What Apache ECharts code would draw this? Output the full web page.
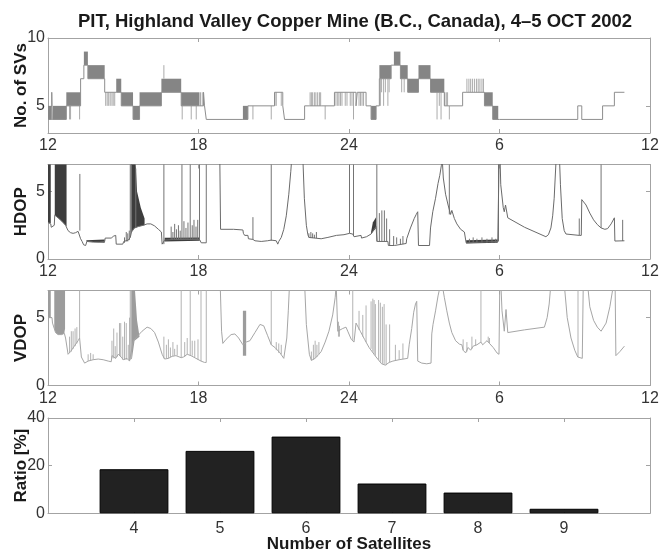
<!DOCTYPE html>
<html><head><meta charset="utf-8">
<script src="https://cdn.jsdelivr.net/npm/echarts@6/dist/echarts.min.js"></script>
<style>html,body{margin:0;padding:0;background:#fff}#c{width:659px;height:554px}</style>
</head><body><div id="c"></div>
<script>
// ---------------- DATA ----------------
const hourTicks = [12, 18, 24, 30, 36];
const hourLabels = ['12', '18', '24', '6', '12'];
const svTicks = [5, 10];
const dopTicks = [0, 5];
const ratioTicks = [0, 20, 40];

// number of satellites: [hour, count] (value held until next entry)
const svSteps = [[12.00,4],[12.15,6],[12.17,4],[12.73,5],[13.30,7],[13.43,8],[13.59,7],[14.26,6],[14.72,6],[14.92,5],[15.39,4],[15.65,5],[16.52,6],[17.31,5],[18.04,5],[18.20,6],[18.24,5],[18.31,4],[19.77,4],[19.97,5],[21.03,6],[21.36,5],[21.43,4],[22.23,5],[22.42,5],[22.89,5],[23.42,6],[24.28,5],[24.33,6],[24.68,5],[24.88,4],[25.08,5],[25.21,7],[25.68,8],[25.79,8],[26.05,7],[26.34,6],[26.77,7],[27.25,6],[27.80,5],[28.00,5],[28.53,6],[28.67,6],[29.40,5],[29.73,4],[30.00,4],[33.12,5],[33.28,4],[34.11,5],[34.58,6],[34.98,6]];
// rapid toggling between two counts: [start, end, low, high]
const svBands = [[12.00,12.13,4,5],[12.20,12.73,4,5],[12.73,13.30,5,6],[13.43,13.59,8,9],[13.59,14.26,7,8],[14.72,14.92,6,7],[14.92,15.39,5,6],[15.39,15.65,4,5],[15.65,16.52,5,6],[16.52,17.31,6,7],[17.31,18.04,5,6],[19.77,19.97,4,5],[24.88,25.08,4,5],[25.21,25.68,7,8],[25.79,26.05,8,9],[26.05,26.34,7,8],[26.34,26.77,6,7],[26.77,27.25,7,8],[27.25,27.80,6,7],[29.40,29.73,5,6],[29.73,29.95,4,5]];
// isolated short changes: [hour, low, high]
const svSpikes = [[12.86,4,5],[12.90,4,5],[13.26,4,5],[14.30,5,6],[14.36,5,6],[14.42,5,6],[14.48,5,6],[14.55,5,6],[14.60,5,6],[14.66,5,6],[16.62,7,8],[17.35,4,5],[17.71,4,5],[17.91,4,5],[18.08,5,6],[18.15,5,6],[20.17,4,5],[20.90,4,5],[21.05,5,6],[21.10,5,6],[21.30,5,6],[22.45,5,6],[22.50,5,6],[22.55,5,6],[22.62,5,6],[22.68,5,6],[22.75,5,6],[22.82,5,6],[22.87,5,6],[23.05,4,5],[23.48,5,6],[23.55,5,6],[23.60,5,6],[23.66,5,6],[23.72,5,6],[23.85,5,6],[23.92,5,6],[24.05,5,6],[24.12,5,6],[24.18,4,6],[24.40,5,6],[24.46,5,6],[24.52,5,6],[24.58,5,6],[25.25,5,7],[25.30,6,7],[25.38,5,7],[25.45,6,7],[25.55,5,7],[25.60,6,7],[26.10,6,7],[26.20,6,7],[27.51,4,6],[27.60,5,6],[27.67,4,6],[27.82,5,6],[27.88,5,6],[27.93,5,6],[28.00,4,5],[28.70,6,7],[28.78,6,7],[28.85,6,7],[28.92,6,7],[29.00,6,7],[29.08,6,7],[29.15,6,7],[29.22,6,7],[29.30,6,7],[29.36,6,7]];

// HDOP: [hour, value], null = no data
const hdopLine = [[12.00,2.7],[12.11,2.6],[12.13,2.35],[12.20,2.3],[12.25,2.5],[12.27,3.25],[12.40,3.05],[12.55,2.8],[12.70,2.5],[12.80,2.1],[12.90,1.95],[13.00,1.9],[13.10,1.95],[13.20,2.05],[13.27,2.15],[13.30,1.5],[13.36,1.3],[13.42,1.05],[13.50,1.0],[13.55,1.3],[13.80,1.25],[14.05,1.25],[14.26,1.3],[14.28,1.55],[14.52,1.55],[14.62,1.7],[14.70,1.75],[14.72,1.1],[14.98,1.1],[15.02,1.3],[15.20,1.4],[15.28,1.6],[15.33,2.0],[15.45,2.3],[15.60,2.4],[15.80,2.5],[15.95,2.6],[16.10,2.6],[16.25,2.45],[16.40,2.2],[16.52,2.0],[16.55,1.1],[16.62,1.1],[16.65,1.4],[17.00,1.45],[17.50,1.45],[18.04,1.45],[18.11,1.2],[18.31,1.2],null,[18.84,9],[18.88,2.2],[19.40,2.2],[19.45,2.15],[19.77,2.15],[19.79,1.9],[19.84,1.75],[19.97,1.75],[19.99,1.5],[20.17,1.45],[20.25,1.35],[20.50,1.3],[20.75,1.35],[20.90,1.4],[21.10,1.35],[21.16,1.1],[21.20,1.3],[21.30,1.6],[21.40,2.2],[21.50,3.2],[21.60,4.8],[21.68,6.5],[21.72,7.5],[21.80,9],[22.10,9],[22.16,7.5],[22.22,4.5],[22.30,2.5],[22.36,1.8],[22.40,1.6],[22.89,1.5],[23.16,1.6],[23.17,1.7],[23.50,1.75],[23.80,1.8],[24.02,1.9],[24.15,1.85],[24.20,1.65],[24.48,1.75],[24.50,1.55],[24.70,1.65],[24.88,1.85],[25.00,2.2],[25.08,2.4],[25.12,1.3],[25.55,1.3],[25.57,1.0],[25.81,1.0],[25.83,1.1],[26.28,1.15],[26.30,1.5],[26.45,2.3],[26.60,3.0],[26.68,3.3],[26.74,3.5],[26.77,1.0],[27.21,1.0],[27.25,2.3],[27.34,3.5],[27.45,4.5],[27.55,5.6],[27.62,6.2],[27.68,6.9],[27.72,7.3],[27.76,6.0],[27.85,4.8],[27.95,4.0],[28.05,3.3],[28.10,3.6],[28.20,3.0],[28.30,2.6],[28.45,2.2],[28.60,2.0],[28.67,1.2],[29.30,1.25],[29.93,1.3],[29.96,1.3],[30.00,9],[30.05,5.5],[30.15,3.8],[30.19,3.5],[30.24,4.0],[30.28,3.9],[30.33,3.05],[31.00,2.35],[31.85,1.65],[31.95,1.8],[32.05,2.3],[32.12,3.2],[32.18,4.5],[32.22,6.0],[32.26,7.5],[32.30,9],[32.36,9],[32.39,7.5],[32.43,5.5],[32.50,3.0],[32.58,2.1],[32.65,1.85],[33.18,1.75],[33.26,1.75],[33.28,4.4],[33.32,4.5],[33.45,4.0],[33.60,3.4],[33.75,2.9],[33.90,2.55],[34.05,2.3],[34.20,2.2],[34.31,2.25],[34.45,2.6],[34.58,3.05],[34.60,1.33],[34.98,1.35]];
// dense HDOP jumps shown as filled regions: lists of [hour, value]
const hdopFills = [
  [[12.00,2.7],[12.11,2.65],[12.11,7.5],[12.00,7.5]],
  [[12.27,3.25],[12.40,3.05],[12.55,2.8],[12.70,2.5],[12.74,2.4],[12.74,7.5],[12.27,7.5]],
  [[13.53,1.3],[14.26,1.2],[14.26,1.45],[13.53,1.38]],
  [[15.30,2.0],[15.30,7.5],[15.48,7.5],[15.55,5.0],[15.70,3.8],[15.85,3.0],[15.85,2.5],[15.60,2.4],[15.45,2.3]],
  [[16.65,1.3],[18.05,1.35],[18.05,1.6],[16.65,1.58]],
  [[24.88,1.85],[25.08,2.3],[25.08,3.1],[24.95,2.7],[24.88,2.0]],
  [[28.67,1.15],[29.93,1.2],[29.93,1.45],[28.67,1.38]]
];
// isolated HDOP jumps: [hour, low, high]
const hdopSpikes = [[13.27,2.1,6.3],[15.05,1.2,1.6],[15.12,1.3,2.0],[15.18,1.3,1.9],[15.24,1.4,2.1],[15.28,1.6,9],[15.33,2.0,9],[15.50,2.3,6.7],[16.62,1.1,9],[16.91,1.45,2.4],[16.98,1.45,2.0],[17.05,1.45,2.6],[17.12,1.45,2.2],[17.20,1.45,2.5],[17.27,1.45,2.1],[17.34,1.4,9],[17.42,1.45,2.8],[17.50,1.45,2.3],[17.58,1.45,2.7],[17.67,1.4,9],[17.75,1.45,2.5],[17.82,1.45,2.9],[17.90,1.45,2.4],[17.97,1.45,2.9],[18.04,1.4,9],[18.31,1.2,9],[20.17,1.45,3.1],[20.90,1.35,9],[22.40,1.6,1.9],[22.48,1.55,2.0],[22.55,1.55,1.9],[22.62,1.55,1.8],[22.70,1.55,2.0],[24.02,1.9,9],[24.18,1.7,9],[25.11,1.3,9],[25.21,1.3,3.4],[25.31,1.3,3.6],[25.41,1.3,3.6],[25.50,1.3,3.0],[25.62,1.0,2.2],[25.78,1.0,1.7],[25.90,1.1,1.6],[26.05,1.1,1.5],[26.15,1.1,1.7],[28.00,3.3,9],[28.80,1.2,1.5],[28.95,1.2,1.6],[29.10,1.2,1.5],[29.30,1.2,1.6],[29.50,1.2,1.5],[29.70,1.2,1.6],[29.85,1.2,1.5],[29.96,1.3,9],[33.18,1.75,3.0],[34.05,2.3,9],[34.91,1.33,2.9]];

// VDOP: [hour, value], null = no data
const vdopLine = [[12.00,5.0],[12.16,5.0],[12.18,4.6],[12.25,4.2],[12.30,3.9],[12.40,3.75],[12.55,3.75],[12.65,3.85],[12.70,3.5],[12.80,2.3],[12.90,2.5],[13.05,2.9],[13.20,3.3],[13.26,3.5],[13.33,2.1],[13.46,1.65],[13.60,1.8],[13.80,1.9],[14.00,1.95],[14.20,1.9],[14.40,1.8],[14.52,1.75],[14.55,2.2],[14.70,2.0],[14.80,2.3],[14.92,2.1],[15.00,1.9],[15.15,2.0],[15.25,1.8],[15.32,1.9],[15.40,3.3],[15.55,3.6],[15.75,4.0],[15.95,4.3],[16.10,4.2],[16.25,3.9],[16.40,3.2],[16.55,2.3],[16.65,1.95],[16.80,2.0],[16.95,2.15],[17.10,2.2],[17.31,2.05],[17.40,2.1],[17.55,2.3],[17.70,2.2],[17.90,2.0],[18.10,1.8],[18.24,1.7],[18.31,1.7],null,[18.84,9],[18.92,4.0],[18.97,3.1],[19.10,3.4],[19.30,3.75],[19.45,3.8],[19.60,3.5],[19.77,3.0],[19.90,3.2],[20.05,3.3],[20.25,3.9],[20.45,4.5],[20.60,4.4],[20.75,3.7],[20.90,3.0],[21.05,2.8],[21.25,2.4],[21.40,2.0],[21.46,2.1],[21.52,3.5],[21.58,5.5],[21.63,7.5],[21.70,9],[22.20,9],[22.23,7.5],[22.30,4.5],[22.42,2.3],[22.50,1.85],[22.65,2.0],[22.80,2.3],[22.89,2.5],[23.05,3.2],[23.20,4.0],[23.35,5.2],[23.45,6.5],[23.49,7.5],[23.55,4.0],[23.62,3.9],[23.75,4.2],[23.88,4.3],[23.95,4.0],[24.09,3.4],[24.20,3.2],[24.28,4.6],[24.45,4.0],[24.62,3.4],[24.80,2.8],[25.00,2.3],[25.08,2.1],[25.15,2.0],[25.30,1.6],[25.45,1.5],[25.60,1.7],[25.75,1.8],[26.00,1.9],[26.34,2.0],[26.40,3.0],[26.50,4.2],[26.58,5.4],[26.65,6.0],[26.70,6.2],[26.74,1.8],[26.90,1.65],[27.10,1.6],[27.27,1.65],[27.30,3.8],[27.35,4.5],[27.45,5.5],[27.55,6.6],[27.62,7.2],[27.70,7.6],[27.80,6.5],[27.90,5.5],[28.00,4.6],[28.10,3.9],[28.25,3.3],[28.40,3.05],[28.50,3.0],[28.55,2.6],[28.65,2.4],[28.75,2.8],[28.85,2.6],[28.95,2.9],[29.10,3.0],[29.26,3.2],[29.33,3.0],[29.50,3.3],[29.60,3.1],[29.75,2.8],[29.90,2.4],[29.98,2.3],[30.02,9],[30.10,5.5],[30.19,4.0],[30.26,5.6],[30.33,3.9],[31.00,4.1],[31.79,4.3],[31.90,5.0],[31.98,6.0],[32.05,7.5],[32.10,9],[32.50,9],[32.58,7.5],[32.70,5.0],[32.85,3.5],[33.00,2.6],[33.12,2.1],[33.30,2.0],[33.35,9],[33.48,9],[33.51,7.5],[33.60,5.8],[33.75,4.8],[33.90,4.3],[34.05,4.0],[34.12,4.0],[34.25,4.6],[34.40,5.8],[34.55,7.5],[34.60,9],[34.62,9],[34.64,2.2],[34.80,2.5],[34.98,2.9]];
const vdopFills = [
  [[12.00,5.0],[12.11,5.0],[12.11,7.5],[12.00,7.5]],
  [[12.25,7.5],[12.25,4.2],[12.30,3.9],[12.40,3.75],[12.55,3.75],[12.65,3.85],[12.68,4.2],[12.68,7.5]],
  [[15.30,1.9],[15.30,7.5],[15.45,7.5],[15.55,4.8],[15.65,3.6],[15.45,3.3],[15.35,2.0]],
  [[19.77,2.2],[19.90,2.2],[19.90,5.5],[19.77,5.5]]
];
const vdopSpikes = [[12.86,2.4,3.6],[12.93,2.5,4.0],[13.00,2.7,4.0],[13.08,2.9,4.2],[13.15,3.1,4.3],[13.26,3.5,9],[13.60,1.8,2.3],[13.70,1.85,2.4],[13.80,1.9,2.3],[14.55,2.0,3.3],[14.62,2.0,4.2],[14.68,2.0,2.9],[14.75,2.1,3.9],[14.85,2.2,4.6],[14.90,2.1,4.6],[14.98,1.9,3.6],[15.05,1.9,4.7],[15.12,1.9,4.6],[15.20,1.9,3.0],[15.25,1.8,5.0],[15.28,1.9,9],[15.33,2.0,9],[16.62,2.0,3.6],[16.72,2.0,3.0],[16.80,2.0,3.4],[16.88,2.1,2.8],[16.98,2.15,3.2],[17.05,2.2,2.7],[17.15,2.2,3.0],[17.31,2.05,9],[17.45,2.1,3.2],[17.55,2.3,3.5],[17.67,2.2,9],[17.75,2.2,3.3],[17.85,2.1,3.3],[17.98,1.9,3.4],[18.10,1.8,9],[18.31,1.7,9],[20.90,3.0,9],[21.10,2.6,3.2],[21.20,2.4,3.1],[21.30,2.3,3.0],[22.50,1.85,2.5],[22.58,1.9,3.0],[22.65,2.0,3.3],[22.72,2.1,3.0],[22.80,2.3,3.2],[23.58,3.6,4.7],[23.62,3.6,4.4],[24.15,3.3,9],[24.40,4.1,5.5],[24.55,3.6,5.2],[24.68,3.2,5.9],[24.88,2.7,6.2],[24.95,2.5,6.4],[25.00,2.3,6.3],[25.05,2.2,6.0],[25.18,1.9,6.3],[25.25,1.75,6.1],[25.33,1.6,5.8],[25.40,1.55,6.0],[25.48,1.5,4.5],[25.62,1.7,4.5],[25.85,1.85,3.0],[26.00,1.9,2.6],[26.15,1.95,3.1],[28.55,2.6,3.4],[28.70,2.5,3.2],[28.90,2.7,3.6],[29.05,2.95,3.4],[29.26,3.2,9],[29.55,3.2,3.6],[29.60,3.1,3.5],[33.13,2.1,9]];

// histogram
const satCounts = [4, 5, 6, 7, 8, 9];
const satRatio = [18.5, 26.2, 32.2, 12.5, 8.7, 1.9];

// ---------------- CHART ----------------
const FONT = '"Liberation Sans", Arial, Helvetica, sans-serif';
const BOX = '#a3a3a3';
const TXT = '#333';
const panels = [
  {top: 38, height: 95},
  {top: 164.5, height: 94.5},
  {top: 290.5, height: 95},
  {top: 418, height: 95.3}
];
const grid = panels.map(p => ({left: 48, width: 602, top: p.top, height: p.height, outerBoundsMode: 'none', containLabel: false}));

const nameStyle = {color: '#1a1a1a', fontSize: 17, fontWeight: 'bold', fontFamily: FONT};

function xAxes(gi, min, max, ticks, fmt, name, margin) {
  const base = () => ({
    gridIndex: gi, type: 'value', min: min, max: max,
    splitLine: {show: false},
    axisLine: {show: true, onZero: false, lineStyle: {color: BOX, width: 1}},
    axisTick: {show: true, inside: true, length: 4, customValues: ticks, lineStyle: {color: BOX}}
  });
  const b = Object.assign(base(), {
    position: 'bottom',
    axisLabel: {show: true, customValues: ticks, formatter: fmt, color: TXT, fontSize: 16, fontFamily: FONT, margin: margin},
    name: name || '', nameLocation: 'middle', nameGap: 23, nameMoveOverlap: false, nameTextStyle: nameStyle
  });
  const t = Object.assign(base(), {position: 'top', axisLabel: {show: false}});
  return [b, t];
}
function yAxes(gi, min, max, ticks, name) {
  const base = () => ({
    gridIndex: gi, type: 'value', min: min, max: max,
    splitLine: {show: false},
    axisLine: {show: true, onZero: false, lineStyle: {color: BOX, width: 1}},
    axisTick: {show: true, inside: true, length: 4, customValues: ticks, lineStyle: {color: BOX}}
  });
  const l = Object.assign(base(), {
    position: 'left',
    axisLabel: {show: true, customValues: ticks, color: TXT, fontSize: 16, fontFamily: FONT, margin: 3},
    name: name, nameLocation: 'middle', nameGap: 18, nameMoveOverlap: false, nameTextStyle: nameStyle
  });
  const r = Object.assign(base(), {position: 'right', axisLabel: {show: false}});
  return [l, r];
}
const hourFmt = v => hourLabels[hourTicks.indexOf(v)];

const xAxis = [].concat(
  xAxes(0, 12, 36, hourTicks, hourFmt, '', 5),
  xAxes(1, 12, 36, hourTicks, hourFmt, '', 5),
  xAxes(2, 12, 36, hourTicks, hourFmt, '', 5),
  xAxes(3, 3, 10, satCounts, v => String(v), 'Number of Satellites', 7)
);
const yAxis = [].concat(
  yAxes(0, 3, 10, svTicks, 'No. of SVs'),
  yAxes(1, 0, 7, dopTicks, 'HDOP'),
  yAxes(2, 0, 7, dopTicks, 'VDOP'),
  yAxes(3, 0, 40, ratioTicks, 'Ratio [%]')
);

function lineSeries(panel, data, color, extra) {
  return Object.assign({
    type: 'line', xAxisIndex: panel * 2, yAxisIndex: panel * 2,
    data: data.map(p => p === null ? ['-', '-'] : p),
    showSymbol: false, symbol: 'none', connectNulls: false, clip: true,
    lineStyle: {color: color, width: 1}, silent: true, z: 3
  }, extra || {});
}
function bandSeries(panel, bands, color) {
  return {
    type: 'custom', xAxisIndex: panel * 2, yAxisIndex: panel * 2, clip: true, silent: true, z: 2,
    encode: {x: [0, 1], y: [2, 3]},
    data: bands,
    renderItem: (params, api) => {
      const a = api.coord([api.value(0), api.value(3)]);
      const b = api.coord([api.value(1), api.value(2)]);
      return {type: 'rect', shape: {x: a[0], y: a[1], width: b[0] - a[0], height: b[1] - a[1]}, style: {fill: color}};
    }
  };
}
function spikeSeries(panel, spikes, color) {
  return {
    type: 'custom', xAxisIndex: panel * 2, yAxisIndex: panel * 2, clip: true, silent: true, z: 3,
    encode: {x: 0, y: [1, 2]},
    data: spikes,
    renderItem: (params, api) => {
      const a = api.coord([api.value(0), api.value(1)]);
      const b = api.coord([api.value(0), api.value(2)]);
      return {type: 'line', shape: {x1: a[0], y1: a[1], x2: b[0], y2: b[1]}, style: {stroke: color, lineWidth: 1}};
    }
  };
}
function polySeries(panel, polys, color) {
  return {
    type: 'custom', xAxisIndex: panel * 2, yAxisIndex: panel * 2, clip: true, silent: true, z: 2,
    encode: {x: 0, y: 1},
    data: polys.map(p => p[0]),
    renderItem: (params, api) => {
      const pts = polys[params.dataIndex].map(q => api.coord(q));
      return {type: 'polygon', shape: {points: pts}, style: {fill: color}};
    }
  };
}

const option = {
  animation: false,
  backgroundColor: '#fff',
  title: {
    text: 'PIT, Highland Valley Copper Mine (B.C., Canada), 4\u20135 OCT 2002',
    left: 350, top: 7, textAlign: 'center',
    textStyle: {color: '#1a1a1a', fontSize: 18.5, fontWeight: 'bold', fontFamily: FONT}
  },
  grid: grid,
  xAxis: xAxis,
  yAxis: yAxis,
  series: [
    bandSeries(0, svBands, '#858585'),
    lineSeries(0, svSteps, '#8e8e8e', {step: 'end'}),
    spikeSeries(0, svSpikes, '#ababab'),
    polySeries(1, hdopFills, '#3d3d3d'),
    lineSeries(1, hdopLine, '#6a6a6a'),
    spikeSeries(1, hdopSpikes, '#747474'),
    polySeries(2, vdopFills, '#9c9c9c'),
    lineSeries(2, vdopLine, '#a6a6a6'),
    spikeSeries(2, vdopSpikes, '#b3b3b3'),
    {
      type: 'bar', xAxisIndex: 6, yAxisIndex: 6, silent: true,
      data: satCounts.map((s, i) => [s, satRatio[i]]),
      barWidth: '80%',
      itemStyle: {color: '#222', borderColor: '#000', borderWidth: 1}
    }
  ]
};
const chart = echarts.init(document.getElementById('c'), null, {renderer: 'canvas'});
chart.setOption(option);
</script>
</body></html>
